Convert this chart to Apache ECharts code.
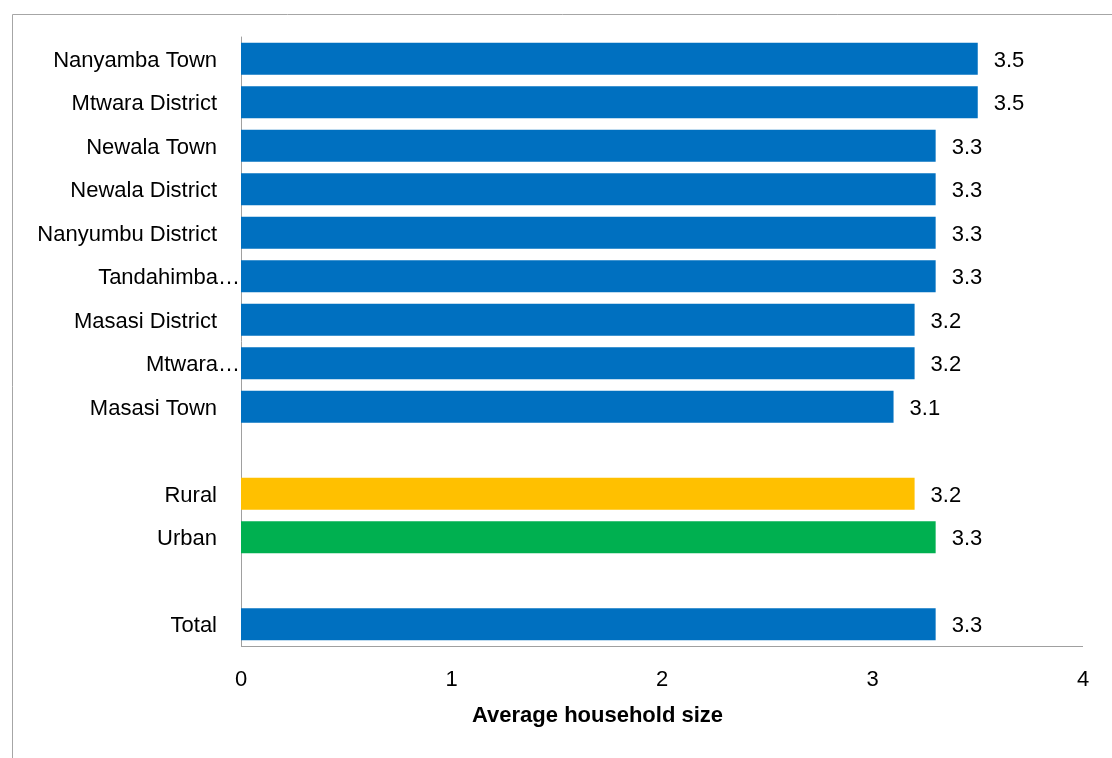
<!DOCTYPE html>
<html>
<head>
<meta charset="utf-8">
<script src="https://cdn.jsdelivr.net/npm/echarts@6/dist/echarts.min.js"></script>
<style>html,body{margin:0;padding:0;background:#fff;}#c{width:1112px;height:758px;}</style>
</head>
<body>
<div id="c"></div>
<script>
const categories = ['Nanyamba Town','Mtwara District','Newala Town','Newala District','Nanyumbu District','Tandahimba…','Masasi District','Mtwara…','Masasi Town',' ','Rural','Urban','  ','Total'];
const values = [3.5,3.5,3.3,3.3,3.3,3.3,3.2,3.2,3.1,null,3.2,3.3,null,3.3];
const xTicks = [0,1,2,3,4];
const axisTitle = 'Average household size';

const FONT = "'Liberation Sans Narrow','Arial Narrow','Liberation Sans',Arial,sans-serif";
const FS = 22;
const colorFor = {'Rural':'#FFC000','Urban':'#00B050'};
const chart = echarts.init(document.getElementById('c'));
chart.setOption({
  animation:false,
  graphic:[{type:'rect',shape:{x:12.5,y:14.5,width:1200,height:800},style:{fill:'none',stroke:'#a6a6a6',lineWidth:1}}],
  title:{text:axisTitle,left:467,top:700,textStyle:{fontFamily:FONT,fontWeight:'bold',fontSize:22,color:'#000'}},
  grid:{left:241,right:29,top:37,bottom:112,containLabel:false},
  xAxis:{type:'value',min:xTicks[0],max:xTicks[xTicks.length-1],interval:1,
    axisLine:{show:false},axisTick:{show:false},splitLine:{show:false},
    axisLabel:{margin:23,fontFamily:FONT,fontSize:FS,color:'#000'}},
  yAxis:{type:'category',inverse:true,data:categories,
    axisLine:{show:true,lineStyle:{color:'#a0a0a0',width:1}},axisTick:{show:false},
    axisLabel:{margin:1,fontFamily:FONT,fontSize:FS,color:'#000',
      formatter:function(v){return v.indexOf('…')>=0 ? '{t|'+v+'}' : '{n|'+v+'}';},
      rich:{t:{fontFamily:FONT,fontSize:FS,color:'#000',padding:[4,0,0,0]},n:{fontFamily:FONT,fontSize:FS,color:'#000',padding:[4,23,0,0]}}}},
  series:[{type:'bar',barCategoryGap:'26%',
    data:values.map((v,i)=>({value:v,itemStyle:{color:colorFor[categories[i]]||'#0070C0'}})),
    label:{show:true,position:'right',distance:16,offset:[0,2],fontFamily:FONT,fontSize:FS,color:'#000',
      formatter:p=>p.value==null?'':p.value.toFixed(1)},
    markLine:{silent:true,symbol:'none',label:{show:false},lineStyle:{color:'#a0a0a0',width:1,type:'solid'},
      data:[[{coord:[0,categories.length-1],y:646},{coord:[4,categories.length-1],y:646}]]}
  }]
});
</script>
</body>
</html>
